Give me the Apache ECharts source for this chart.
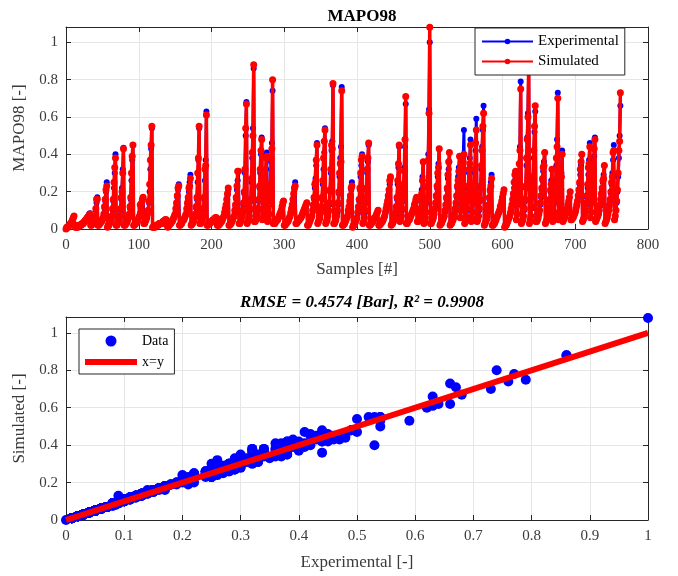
<!DOCTYPE html>
<html>
<head>
<meta charset="utf-8">
<script src="https://cdn.jsdelivr.net/npm/echarts@6/dist/echarts.min.js"></script>
<style>html,body{margin:0;padding:0;background:#fff}#c{width:678px;height:576px}</style>
</head>
<body>
<div id="c"></div>
<script>
const topTitle = 'MAPO98';
const bottomTitle = 'RMSE = 0.4574 [Bar], R\u00B2 = 0.9908';
const seriesNames = ['Experimental', 'Simulated', 'Data', 'x=y'];
const sampleRange = [0, 800, 100];
const valueRangeTop = [0, 1.082, 0.2];
const expRange = [0, 1, 0.1];
const simRange = [0, 1.085, 0.2];
const identityX = [0, 1];

const experimental = [
0,0.01,0.01,0.01,0.02,0.02,0.03,0.03,0.04,0.05,0.06,0.07,
0.02,0.01,0.01,0.01,0.01,0.02,0.02,0.02,0.02,0.02,0.03,0.03,0.03,0.04,0.04,0.05,0.05,0.06,0.06,0.07,0.08,0.085,
0.02,0.02,0.03,0.03,0.04,0.05,0.07,0.10,0.14,0.17,
0.02,0.02,0.03,0.03,0.04,0.04,0.05,0.06,0.08,0.11,0.15,0.20,0.25,
0.01,0.02,0.02,0.03,0.04,0.05,0.07,0.10,0.15,0.22,0.30,0.40,
0.02,0.02,0.03,0.04,0.05,0.07,0.10,0.16,0.22,0.32,0.435,
0.02,0.02,0.03,0.03,0.04,0.05,0.06,0.08,0.11,0.16,0.26,0.37,0.45,
0.02,0.02,0.03,0.03,0.04,0.04,0.05,0.06,0.07,0.09,0.11,0.13,0.15,0.17,
0.03,0.03,0.04,0.05,0.06,0.08,0.10,0.14,0.20,0.32,0.43,0.54,
0.01,0.01,0.01,0.01,0.02,0.02,0.02,0.02,0.02,0.03,0.03,0.03,0.03,0.03,0.04,0.04,0.04,0.05,0.05,0.05,
0.02,0.01,0.02,0.02,0.03,0.03,0.04,0.04,0.05,0.06,0.07,0.08,0.10,0.13,0.17,0.21,0.24,
0.02,0.02,0.03,0.03,0.04,0.05,0.05,0.06,0.07,0.08,0.10,0.13,0.16,0.20,0.25,0.29,
0.02,0.03,0.03,0.04,0.05,0.06,0.08,0.11,0.16,0.25,0.37,0.54,
0.03,0.03,0.04,0.05,0.07,0.10,0.16,0.26,0.37,0.63,
0.02,0.02,0.03,0.03,0.03,0.04,0.04,0.04,0.05,0.05,0.05,0.06,0.06,0.06,
0.02,0.02,0.02,0.03,0.03,0.04,0.04,0.05,0.06,0.07,0.08,0.10,0.12,0.15,0.18,0.21,
0.02,0.02,0.03,0.03,0.04,0.05,0.06,0.07,0.09,0.12,0.16,0.21,0.26,0.31,
0.03,0.03,0.04,0.05,0.07,0.09,0.13,0.19,0.30,0.50,0.68,
0.03,0.04,0.05,0.07,0.10,0.15,0.25,0.38,0.54,0.86,
0.04,0.04,0.05,0.06,0.08,0.10,0.15,0.22,0.30,0.40,0.49,
0.05,0.06,0.09,0.14,0.22,0.32,0.41,
0.04,0.05,0.08,0.13,0.22,0.36,0.46,0.74,
0.03,0.03,0.03,0.04,0.04,0.05,0.05,0.06,0.07,0.08,0.09,0.10,0.12,0.13,0.15,
0.02,0.02,0.03,0.03,0.04,0.04,0.05,0.06,0.07,0.08,0.10,0.12,0.15,0.18,0.21,0.25,
0.03,0.03,0.04,0.04,0.05,0.05,0.06,0.06,0.07,0.08,0.09,0.10,0.11,0.12,0.13,0.14,
0.02,0.02,0.03,0.04,0.05,0.06,0.07,0.09,0.12,0.16,0.22,0.27,0.34,0.46,
0.03,0.04,0.05,0.06,0.08,0.11,0.16,0.24,0.32,0.41,0.54,
0.03,0.04,0.05,0.07,0.09,0.13,0.20,0.30,0.42,0.47,0.77,
0.03,0.03,0.04,0.05,0.07,0.09,0.13,0.19,0.28,0.38,0.44,0.76,
0.02,0.02,0.03,0.03,0.04,0.05,0.06,0.07,0.09,0.11,0.14,0.17,0.21,0.25,
0.01,0.02,0.02,0.03,0.04,0.05,0.06,0.08,0.11,0.15,0.21,0.28,0.34,0.40,
0.03,0.04,0.06,0.09,0.14,0.21,0.30,0.36,0.45,
0.02,0.02,0.03,0.03,0.04,0.04,0.05,0.06,0.06,0.07,0.08,0.09,0.10,
0.02,0.02,0.03,0.03,0.04,0.04,0.05,0.06,0.07,0.08,0.10,0.12,0.14,0.17,0.20,0.24,0.27,
0.02,0.03,0.03,0.04,0.05,0.06,0.08,0.11,0.16,0.24,0.33,0.44,
0.04,0.05,0.07,0.10,0.15,0.22,0.33,0.44,0.67,
0.03,0.03,0.04,0.05,0.05,0.06,0.07,0.08,0.09,0.10,0.11,0.13,0.14,0.16,0.17,
0.04,0.04,0.05,0.07,0.10,0.15,0.21,0.28,0.36,
0.03,0.04,0.06,0.09,0.14,0.22,0.40,0.64,1.00,
0.03,0.03,0.04,0.05,0.06,0.08,0.10,0.13,0.17,0.22,0.28,0.35,0.43,
0.02,0.03,0.03,0.04,0.05,0.06,0.07,0.09,0.12,0.16,0.21,0.27,0.32,0.36,
0.02,0.03,0.03,0.04,0.05,0.06,0.08,0.10,0.13,0.17,0.22,0.28,0.33,0.39,
0.06,0.10,0.17,0.26,0.38,0.53,
0.03,0.05,0.07,0.10,0.15,0.22,0.30,0.38,0.48,
0.04,0.06,0.09,0.14,0.21,0.30,0.42,0.59,
0.04,0.05,0.07,0.10,0.15,0.22,0.32,0.44,0.53,0.66,
0.02,0.03,0.04,0.05,0.07,0.09,0.12,0.16,0.20,0.25,0.29,
0.02,0.02,0.03,0.03,0.04,0.05,0.06,0.07,0.08,0.09,0.10,0.12,0.13,0.15,0.17,0.19,0.21,
0.01,0.02,0.02,0.03,0.04,0.05,0.06,0.07,0.08,0.10,0.12,0.15,0.18,0.22,0.26,0.31,
0.05,0.08,0.13,0.20,0.30,0.44,0.79,
0.03,0.04,0.05,0.07,0.10,0.15,0.22,0.34,0.49,0.62,0.86,
0.03,0.05,0.07,0.11,0.17,0.26,0.38,0.52,0.63,
0.04,0.04,0.05,0.06,0.08,0.10,0.13,0.17,0.21,0.26,0.31,0.36,0.41,
0.03,0.04,0.05,0.06,0.08,0.11,0.15,0.20,0.26,0.32,
0.04,0.06,0.09,0.14,0.22,0.34,0.48,0.73,
0.05,0.08,0.13,0.20,0.30,0.42,
0.04,0.05,0.06,0.07,0.08,0.10,0.11,0.13,0.15,0.17,0.20,
0.05,0.05,0.06,0.06,0.07,0.08,0.09,0.10,0.12,0.14,0.17,0.20,0.24,0.29,0.34,0.40,
0.04,0.05,0.06,0.08,0.10,0.13,0.17,0.22,0.29,0.37,0.46,
0.06,0.09,0.14,0.21,0.30,0.39,0.49,
0.04,0.05,0.06,0.07,0.08,0.10,0.12,0.15,0.18,0.21,0.25,0.29,0.34,
0.03,0.04,0.05,0.06,0.08,0.10,0.12,0.15,0.19,0.24,0.30,0.37,0.45,
0.05,0.07,0.10,0.14,0.20,0.28,0.38,0.50,0.66
];

const simulated = [
0,0.01,0.01,0.01,0.02,0.02,0.03,0.03,0.04,0.05,0.06,0.07,
0.02,0.01,0.01,0.01,0.01,0.02,0.02,0.02,0.02,0.02,0.03,0.03,0.03,0.04,0.04,0.05,0.05,0.06,0.06,0.07,0.075,0.08,
0.02,0.02,0.03,0.03,0.04,0.05,0.07,0.11,0.16,0.16,
0.02,0.02,0.03,0.03,0.04,0.04,0.05,0.06,0.08,0.12,0.16,0.21,0.23,
0.01,0.02,0.02,0.03,0.04,0.05,0.07,0.11,0.16,0.25,0.33,0.38,
0.02,0.02,0.03,0.04,0.05,0.07,0.11,0.17,0.20,0.30,0.43,
0.02,0.02,0.03,0.03,0.04,0.05,0.06,0.08,0.12,0.17,0.30,0.39,0.45,
0.02,0.02,0.03,0.03,0.04,0.04,0.05,0.06,0.07,0.13,0.11,0.14,0.16,0.17,
0.03,0.03,0.04,0.05,0.06,0.08,0.10,0.15,0.24,0.37,0.45,0.55,
0.01,0.01,0.01,0.01,0.02,0.02,0.02,0.02,0.02,0.03,0.03,0.03,0.03,0.03,0.04,0.04,0.04,0.05,0.05,0.05,
0.02,0.01,0.02,0.02,0.03,0.03,0.04,0.04,0.05,0.06,0.07,0.08,0.11,0.14,0.18,0.22,0.23,
0.02,0.02,0.03,0.03,0.04,0.05,0.05,0.06,0.07,0.08,0.11,0.14,0.17,0.22,0.23,0.27,
0.02,0.03,0.03,0.04,0.05,0.06,0.08,0.12,0.17,0.30,0.38,0.55,
0.03,0.03,0.04,0.05,0.07,0.11,0.17,0.32,0.34,0.61,
0.02,0.02,0.03,0.03,0.03,0.04,0.04,0.04,0.05,0.05,0.05,0.06,0.06,0.06,
0.02,0.02,0.02,0.03,0.03,0.04,0.04,0.05,0.06,0.07,0.09,0.11,0.13,0.16,0.19,0.22,
0.02,0.02,0.03,0.03,0.04,0.05,0.06,0.07,0.10,0.13,0.17,0.23,0.31,0.31,
0.03,0.03,0.04,0.05,0.07,0.10,0.14,0.20,0.32,0.54,0.67,
0.03,0.04,0.05,0.07,0.11,0.16,0.27,0.41,0.50,0.88,
0.04,0.04,0.05,0.06,0.08,0.11,0.16,0.23,0.32,0.42,0.48,
0.05,0.06,0.10,0.15,0.24,0.38,0.39,
0.04,0.05,0.08,0.14,0.24,0.38,0.43,0.80,
0.03,0.03,0.03,0.04,0.04,0.05,0.05,0.06,0.07,0.08,0.09,0.10,0.12,0.14,0.15,
0.02,0.02,0.03,0.03,0.04,0.04,0.05,0.06,0.07,0.09,0.11,0.13,0.16,0.19,0.22,0.23,
0.03,0.03,0.04,0.04,0.05,0.05,0.06,0.06,0.07,0.08,0.09,0.10,0.11,0.12,0.13,0.14,
0.02,0.02,0.03,0.04,0.05,0.06,0.07,0.10,0.13,0.17,0.24,0.25,0.37,0.45,
0.03,0.04,0.05,0.06,0.09,0.12,0.17,0.26,0.38,0.47,0.53,
0.03,0.04,0.05,0.07,0.10,0.14,0.21,0.32,0.45,0.43,0.78,
0.03,0.03,0.04,0.05,0.07,0.10,0.14,0.20,0.30,0.35,0.36,0.74,
0.02,0.02,0.03,0.03,0.04,0.05,0.06,0.07,0.10,0.12,0.15,0.18,0.22,0.23,
0.01,0.02,0.02,0.03,0.04,0.05,0.06,0.09,0.12,0.16,0.22,0.30,0.37,0.39,
0.03,0.04,0.06,0.10,0.15,0.22,0.32,0.38,0.46,
0.02,0.02,0.03,0.03,0.04,0.04,0.05,0.06,0.06,0.07,0.08,0.09,0.10,
0.02,0.02,0.03,0.03,0.04,0.04,0.05,0.06,0.07,0.09,0.11,0.13,0.15,0.18,0.21,0.26,0.28,
0.02,0.03,0.03,0.04,0.05,0.06,0.09,0.12,0.17,0.26,0.35,0.45,
0.04,0.05,0.07,0.11,0.16,0.24,0.31,0.48,0.71,
0.03,0.03,0.04,0.05,0.05,0.06,0.07,0.08,0.09,0.10,0.11,0.13,0.14,0.16,0.17,
0.04,0.04,0.05,0.07,0.11,0.16,0.19,0.26,0.36,
0.03,0.04,0.06,0.09,0.15,0.23,0.37,0.62,1.08,
0.03,0.03,0.04,0.05,0.06,0.08,0.11,0.14,0.18,0.23,0.30,0.33,0.43,
0.02,0.03,0.03,0.04,0.05,0.06,0.07,0.10,0.13,0.17,0.22,0.29,0.36,0.41,
0.02,0.03,0.03,0.04,0.05,0.06,0.08,0.11,0.14,0.18,0.23,0.26,0.31,0.39,
0.06,0.10,0.17,0.27,0.36,0.40,
0.03,0.05,0.07,0.11,0.16,0.23,0.32,0.35,0.45,
0.04,0.06,0.09,0.15,0.22,0.32,0.46,0.53,
0.04,0.05,0.07,0.11,0.16,0.23,0.34,0.42,0.55,0.62,
0.02,0.03,0.04,0.05,0.07,0.10,0.13,0.17,0.21,0.23,0.27,
0.02,0.02,0.03,0.03,0.04,0.05,0.06,0.07,0.08,0.09,0.10,0.12,0.13,0.15,0.17,0.19,0.21,
0.01,0.02,0.02,0.03,0.04,0.05,0.06,0.07,0.09,0.11,0.13,0.16,0.19,0.25,0.29,0.31,
0.05,0.08,0.14,0.21,0.35,0.42,0.75,
0.03,0.04,0.05,0.07,0.11,0.16,0.23,0.38,0.48,0.60,0.88,
0.03,0.05,0.07,0.12,0.18,0.28,0.42,0.55,0.66,
0.04,0.04,0.05,0.06,0.08,0.10,0.14,0.18,0.22,0.27,0.33,0.34,0.41,
0.03,0.04,0.05,0.06,0.09,0.12,0.16,0.21,0.24,0.32,
0.04,0.06,0.09,0.15,0.23,0.38,0.44,0.70,
0.05,0.08,0.14,0.21,0.28,0.40,
0.04,0.05,0.06,0.07,0.08,0.10,0.11,0.13,0.15,0.17,0.20,
0.05,0.05,0.06,0.06,0.07,0.08,0.09,0.11,0.13,0.15,0.18,0.21,0.25,0.32,0.36,0.40,
0.04,0.05,0.06,0.08,0.11,0.14,0.18,0.24,0.33,0.35,0.44,
0.06,0.09,0.15,0.22,0.32,0.43,0.48,
0.04,0.05,0.06,0.07,0.08,0.10,0.13,0.16,0.19,0.22,0.26,0.27,0.34,
0.03,0.04,0.05,0.06,0.08,0.10,0.13,0.16,0.20,0.25,0.28,0.41,0.42,
0.05,0.07,0.10,0.15,0.21,0.30,0.42,0.47,0.73
];

const FONT = 'Liberation Serif';
const AX = '#262626';
const GRIDC = '#e6e6e6';

const expPts = experimental.map((v, i) => [i, v]);
const simPts = simulated.map((v, i) => [i, v]);
const n = Math.min(experimental.length, simulated.length);
const scatterPts = [];
for (let i = 0; i < n; i++) scatterPts.push([experimental[i], simulated[i]]);
const identityPts = identityX.map(v => [v, v]);

function mainAxis(grid, pos, range, extra) {
  return Object.assign({
    type: 'value', gridIndex: grid, position: pos,
    min: range[0], max: range[1], interval: range[2],
    axisLine: { show: true, onZero: false, lineStyle: { color: AX, width: 1 } },
    axisTick: { show: true, inside: true, length: 5, lineStyle: { color: AX } },
    axisLabel: { show: true, color: '#3a3a3a', fontFamily: FONT, fontSize: 15, showMaxLabel: false },
    splitLine: { show: true, lineStyle: { color: GRIDC, width: 1 } },
    nameLocation: 'middle',
    nameTextStyle: { fontFamily: FONT, fontSize: 17, color: '#3a3a3a' }
  }, extra || {});
}
function sideAxis(grid, pos, range) {
  return {
    type: 'value', gridIndex: grid, position: pos,
    min: range[0], max: range[1], interval: range[2],
    axisLine: { show: true, onZero: false, lineStyle: { color: AX, width: 1 } },
    axisTick: { show: true, inside: true, length: 5, lineStyle: { color: AX } },
    axisLabel: { show: false },
    splitLine: { show: false }
  };
}

const chart = echarts.init(document.getElementById('c'), null, { renderer: 'canvas' });
chart.setOption({
  animation: false,
  backgroundColor: '#fff',
  textStyle: { fontFamily: FONT },
  title: [
    { text: topTitle, left: 357, top: 3, textAlign: 'center',
      textStyle: { fontFamily: FONT, fontSize: 17, fontWeight: 'bold', color: '#000' } },
    { text: bottomTitle, left: 357, top: 289, textAlign: 'center',
      textStyle: { fontFamily: FONT, fontSize: 17, fontWeight: 'bold', fontStyle: 'italic', color: '#000' } }
  ],
  grid: [
    { left: 66, top: 27, width: 582, height: 202 },
    { left: 66, top: 317, width: 582, height: 203 }
  ],
  xAxis: [
    mainAxis(0, 'bottom', sampleRange, { name: 'Samples [#]', nameGap: 32,
      axisLabel: { color: '#3a3a3a', fontFamily: FONT, fontSize: 15, margin: 9 } }),
    sideAxis(0, 'top', sampleRange),
    mainAxis(1, 'bottom', expRange, { name: 'Experimental [-]', nameGap: 34,
      axisLabel: { color: '#3a3a3a', fontFamily: FONT, fontSize: 15, margin: 9 } }),
    sideAxis(1, 'top', expRange)
  ],
  yAxis: [
    mainAxis(0, 'left', valueRangeTop, { name: 'MAPO98 [-]', nameGap: 31 }),
    sideAxis(0, 'right', valueRangeTop),
    mainAxis(1, 'left', simRange, { name: 'Simulated [-]', nameGap: 31 }),
    sideAxis(1, 'right', simRange)
  ],
  legend: [
    { data: [seriesNames[0], seriesNames[1]], orient: 'vertical', left: 475, top: 28,
      itemWidth: 51, itemHeight: 7, itemGap: 5, padding: [6, 6, 6, 6],
      backgroundColor: '#fff', borderColor: AX, borderWidth: 1, borderRadius: 0,
      textStyle: { fontFamily: FONT, fontSize: 15, color: '#000' } },
    { data: [ { name: seriesNames[2], icon: 'circle' },
              { name: seriesNames[3], icon: 'path://M0,0H52V6H0Z', itemStyle: { color: '#ff0000' } } ],
      orient: 'vertical', left: 79, top: 329,
      itemWidth: 52, itemHeight: 11, itemGap: 7, padding: [5, 6, 5, 6],
      backgroundColor: '#fff', borderColor: AX, borderWidth: 1, borderRadius: 0,
      textStyle: { fontFamily: FONT, fontSize: 14, color: '#000' } }
  ],
  series: [
    { name: seriesNames[0], type: 'line', xAxisIndex: 0, yAxisIndex: 0, data: expPts,
      color: '#0000ff', lineStyle: { color: '#0000ff', width: 3 },
      itemStyle: { color: '#0000ff' }, symbol: 'circle', symbolSize: 6, showAllSymbol: true, z: 2 },
    { name: seriesNames[1], type: 'line', xAxisIndex: 0, yAxisIndex: 0, data: simPts,
      color: '#ff0000', lineStyle: { color: '#ff0000', width: 3.5 },
      itemStyle: { color: '#ff0000' }, symbol: 'circle', symbolSize: 7, showAllSymbol: true, z: 3 },
    { name: seriesNames[2], type: 'scatter', xAxisIndex: 2, yAxisIndex: 2, data: scatterPts,
      color: '#0000ff', itemStyle: { color: '#0000ff', opacity: 1 }, symbolSize: 10, z: 2 },
    { name: seriesNames[3], type: 'line', xAxisIndex: 2, yAxisIndex: 2, data: identityPts,
      color: '#ff0000', lineStyle: { color: '#ff0000', width: 6 }, symbol: 'none', z: 3 }
  ]
});
</script>
</body>
</html>
